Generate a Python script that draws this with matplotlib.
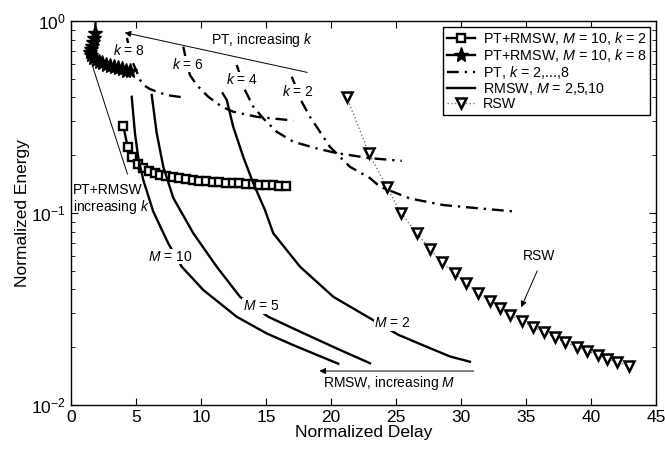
import matplotlib
matplotlib.use("Agg")
import matplotlib.pyplot as plt

plt.rcParams['font.family'] = ['Liberation Sans', 'DejaVu Sans']
plt.rcParams['mathtext.fontset'] = 'custom'
plt.rcParams['mathtext.rm'] = 'Liberation Sans'
plt.rcParams['mathtext.it'] = 'Liberation Sans:italic'

# ---- data ----
sq_x = [4.02, 4.36, 4.69, 5.15, 5.56, 6.02, 6.46, 6.85, 7.31, 7.82, 8.33, 8.85, 9.36, 9.87,
        10.38, 10.9, 11.41, 11.92, 12.43, 12.95, 13.46, 13.97, 14.48, 15.0, 15.51, 16.02, 16.54]
sq_y = [0.284, 0.221, 0.195, 0.180, 0.172, 0.1655, 0.1616, 0.1583, 0.156, 0.1535, 0.1517, 0.150,
        0.1486, 0.1475, 0.1465, 0.1455, 0.1447, 0.144, 0.1433, 0.1426, 0.142, 0.1413, 0.1407,
        0.1401, 0.1395, 0.139, 0.1383]

st_x = [1.92, 1.85, 1.77, 1.69, 1.62, 1.54, 1.46, 1.54, 1.69, 1.92, 2.15, 2.38, 2.69, 3.0,
        3.31, 3.62, 3.92, 4.23, 4.54]
st_y = [1.114, 0.866, 0.816, 0.778, 0.741, 0.715, 0.690, 0.665, 0.645, 0.626, 0.612, 0.601,
        0.590, 0.580, 0.573, 0.566, 0.559, 0.552, 0.546]

pt8_x = [4.31, 4.67, 5.0, 5.31, 5.69, 6.08, 6.85, 7.62, 8.52]
pt8_y = [0.816, 0.626, 0.556, 0.493, 0.459, 0.442, 0.422, 0.409, 0.401]
pt6_x = [8.64, 8.85, 9.15, 9.67, 10.56, 11.59, 12.48, 14.28, 17.1]
pt6_y = [0.735, 0.626, 0.523, 0.464, 0.403, 0.358, 0.337, 0.317, 0.303]
pt4_x = [12.75, 13.38, 14.02, 14.79, 15.82, 17.1, 18.9, 20.44, 23.0, 25.44]
pt4_y = [0.590, 0.437, 0.358, 0.311, 0.265, 0.235, 0.217, 0.205, 0.193, 0.187]
pt2_x = [16.98, 17.75, 18.38, 19.15, 19.92, 20.69, 21.46, 23.0, 23.77, 26.08, 28.64, 31.21, 34.28]
pt2_y = [0.513, 0.380, 0.317, 0.265, 0.221, 0.196, 0.174, 0.152, 0.137, 0.119, 0.110, 0.106, 0.1016]

m10_x = [4.67, 4.92, 5.18, 5.56, 6.33, 7.48, 8.52, 10.18, 12.75, 15.05, 17.1, 20.56]
m10_y = [0.403, 0.260, 0.193, 0.1486, 0.1016, 0.0695, 0.0525, 0.0397, 0.0288, 0.0236, 0.0205, 0.0164]
m5_x = [6.21, 6.59, 7.1, 7.87, 9.41, 11.21, 13.0, 15.18, 17.62, 20.44, 23.0]
m5_y = [0.412, 0.261, 0.174, 0.1197, 0.0784, 0.0525, 0.0366, 0.0288, 0.0241, 0.0197, 0.0165]
m2_x = [11.67, 11.98, 12.48, 13.25, 14.02, 14.92, 15.56, 17.62, 20.18, 23.0, 25.18, 27.36, 29.15, 30.69]
m2_y = [0.420, 0.388, 0.281, 0.196, 0.143, 0.1037, 0.0784, 0.0525, 0.0366, 0.0283, 0.0232, 0.0201, 0.0179, 0.0168]

rsw_x = [21.2, 22.9, 24.3, 25.4, 26.6, 27.6, 28.5, 29.5, 30.4, 31.3, 32.2, 33.0, 33.8, 34.7,
         35.5, 36.4, 37.2, 38.0, 38.9, 39.7, 40.5, 41.2, 42.0, 42.9]
rsw_y = [0.403, 0.206, 0.136, 0.0996, 0.0784, 0.0653, 0.0554, 0.0485, 0.0430, 0.0385, 0.0349,
         0.0319, 0.0294, 0.0274, 0.0256, 0.0239, 0.0225, 0.0212, 0.0201, 0.0191, 0.0182, 0.0174,
         0.0167, 0.0160]

x_ticks = [0, 5, 10, 15, 20, 25, 30, 35, 40, 45]

# ---- figure ----
fig = plt.figure(figsize=(6.65, 4.54), dpi=100)
ax = fig.add_axes([71/665, 1-405/454, 585/665, 384/454])

lw = 1.7
h_sq, = ax.plot(sq_x, sq_y, '-', color='black', lw=lw, marker='s', ms=5.5,
                mfc='white', mec='black', mew=1.7)
h_st, = ax.plot(st_x, st_y, '-', color='black', lw=lw, marker='*', ms=11,
                mfc='black', mec='black')
ptkw = dict(color='black', lw=lw, ls=(0, (5, 2.5, 1, 2.5)))
h_pt, = ax.plot(pt8_x, pt8_y, **ptkw)
ax.plot(pt6_x, pt6_y, **ptkw)
ax.plot(pt4_x, pt4_y, **ptkw)
ax.plot(pt2_x, pt2_y, **ptkw)
h_m, = ax.plot(m10_x, m10_y, '-', color='black', lw=lw)
ax.plot(m5_x, m5_y, '-', color='black', lw=lw)
ax.plot(m2_x, m2_y, '-', color='black', lw=lw)
h_rsw, = ax.plot(rsw_x, rsw_y, ls=':', color='#777777', lw=1.0, marker='v', ms=7.5,
                 mfc='white', mec='black', mew=1.8)

ax.set_yscale('log')
ax.set_xlim(0, 45)
ax.set_ylim(1e-2, 1e0)
ax.set_xticks(x_ticks)
ax.tick_params(which='both', direction='in', top=True, right=True, labelsize=12.5)
ax.tick_params(which='major', length=5)
ax.tick_params(which='minor', length=3)
ax.tick_params(axis='x', which='minor', bottom=False, top=False)
for s in ax.spines.values():
    s.set_linewidth(1.0)
ax.set_xlabel('Normalized Delay', fontsize=12.5, labelpad=0)
ax.set_ylabel('Normalized Energy', fontsize=12.5, labelpad=1)

leg = ax.legend([h_sq, h_st, h_pt, h_m, h_rsw],
                [r'PT+RMSW, $M$ = 10, $k$ = 2', r'PT+RMSW, $M$ = 10, $k$ = 8',
                 r'PT, $k$ = 2,...,8', r'RMSW, $M$ = 2,5,10', 'RSW'],
                loc='upper right', fontsize=10.3, frameon=True, fancybox=False,
                edgecolor='black', framealpha=1, handlelength=2.0, handletextpad=0.5,
                labelspacing=0.0, borderaxespad=0.4, borderpad=0.25)
leg.get_frame().set_linewidth(1.0)

box = dict(facecolor='white', edgecolor='none', pad=0.5)
tkw = dict(fontsize=10, ha='center', va='center', bbox=box)
ax.text(4.46, 0.698, r'$k$ = 8', **tkw)
ax.text(8.96, 0.597, r'$k$ = 6', **tkw)
ax.text(13.19, 0.493, r'$k$ = 4', **tkw)
ax.text(17.42, 0.427, r'$k$ = 2', **tkw)
ax.text(7.65, 0.0593, r'$M$ = 10', **tkw)
ax.text(14.65, 0.0328, r'$M$ = 5', **tkw)
ax.text(24.73, 0.0267, r'$M$ = 2', **tkw)

ax.text(14.7, 0.80, r'PT, increasing $k$', fontsize=10, ha='center', va='center')
ax.annotate('', xy=(3.92, 0.876), xytext=(18.38, 0.536),
            arrowprops=dict(arrowstyle='-|>', color='black', lw=0.7, mutation_scale=9))
ax.text(0.15, 0.118, 'PT+RMSW\nincreasing $k$', fontsize=10, ha='left', va='center',
        linespacing=1.05)
ax.annotate('', xy=(1.21, 0.721), xytext=(4.41, 0.1545),
            arrowprops=dict(arrowstyle='-|>', color='black', lw=0.7, mutation_scale=9))
ax.text(24.5, 0.0130, r'RMSW, increasing $M$', fontsize=10, ha='center', va='center')
ax.annotate('', xy=(18.9, 0.01503), xytext=(31.2, 0.01503),
            arrowprops=dict(arrowstyle='-|>', color='black', lw=0.7, mutation_scale=9))
ax.text(36.0, 0.0597, 'RSW', fontsize=10, ha='center', va='center')
ax.annotate('', xy=(34.54, 0.0313), xytext=(35.95, 0.0515),
            arrowprops=dict(arrowstyle='-|>', color='black', lw=0.7, mutation_scale=9))

fig.savefig('out.png', dpi=100)
